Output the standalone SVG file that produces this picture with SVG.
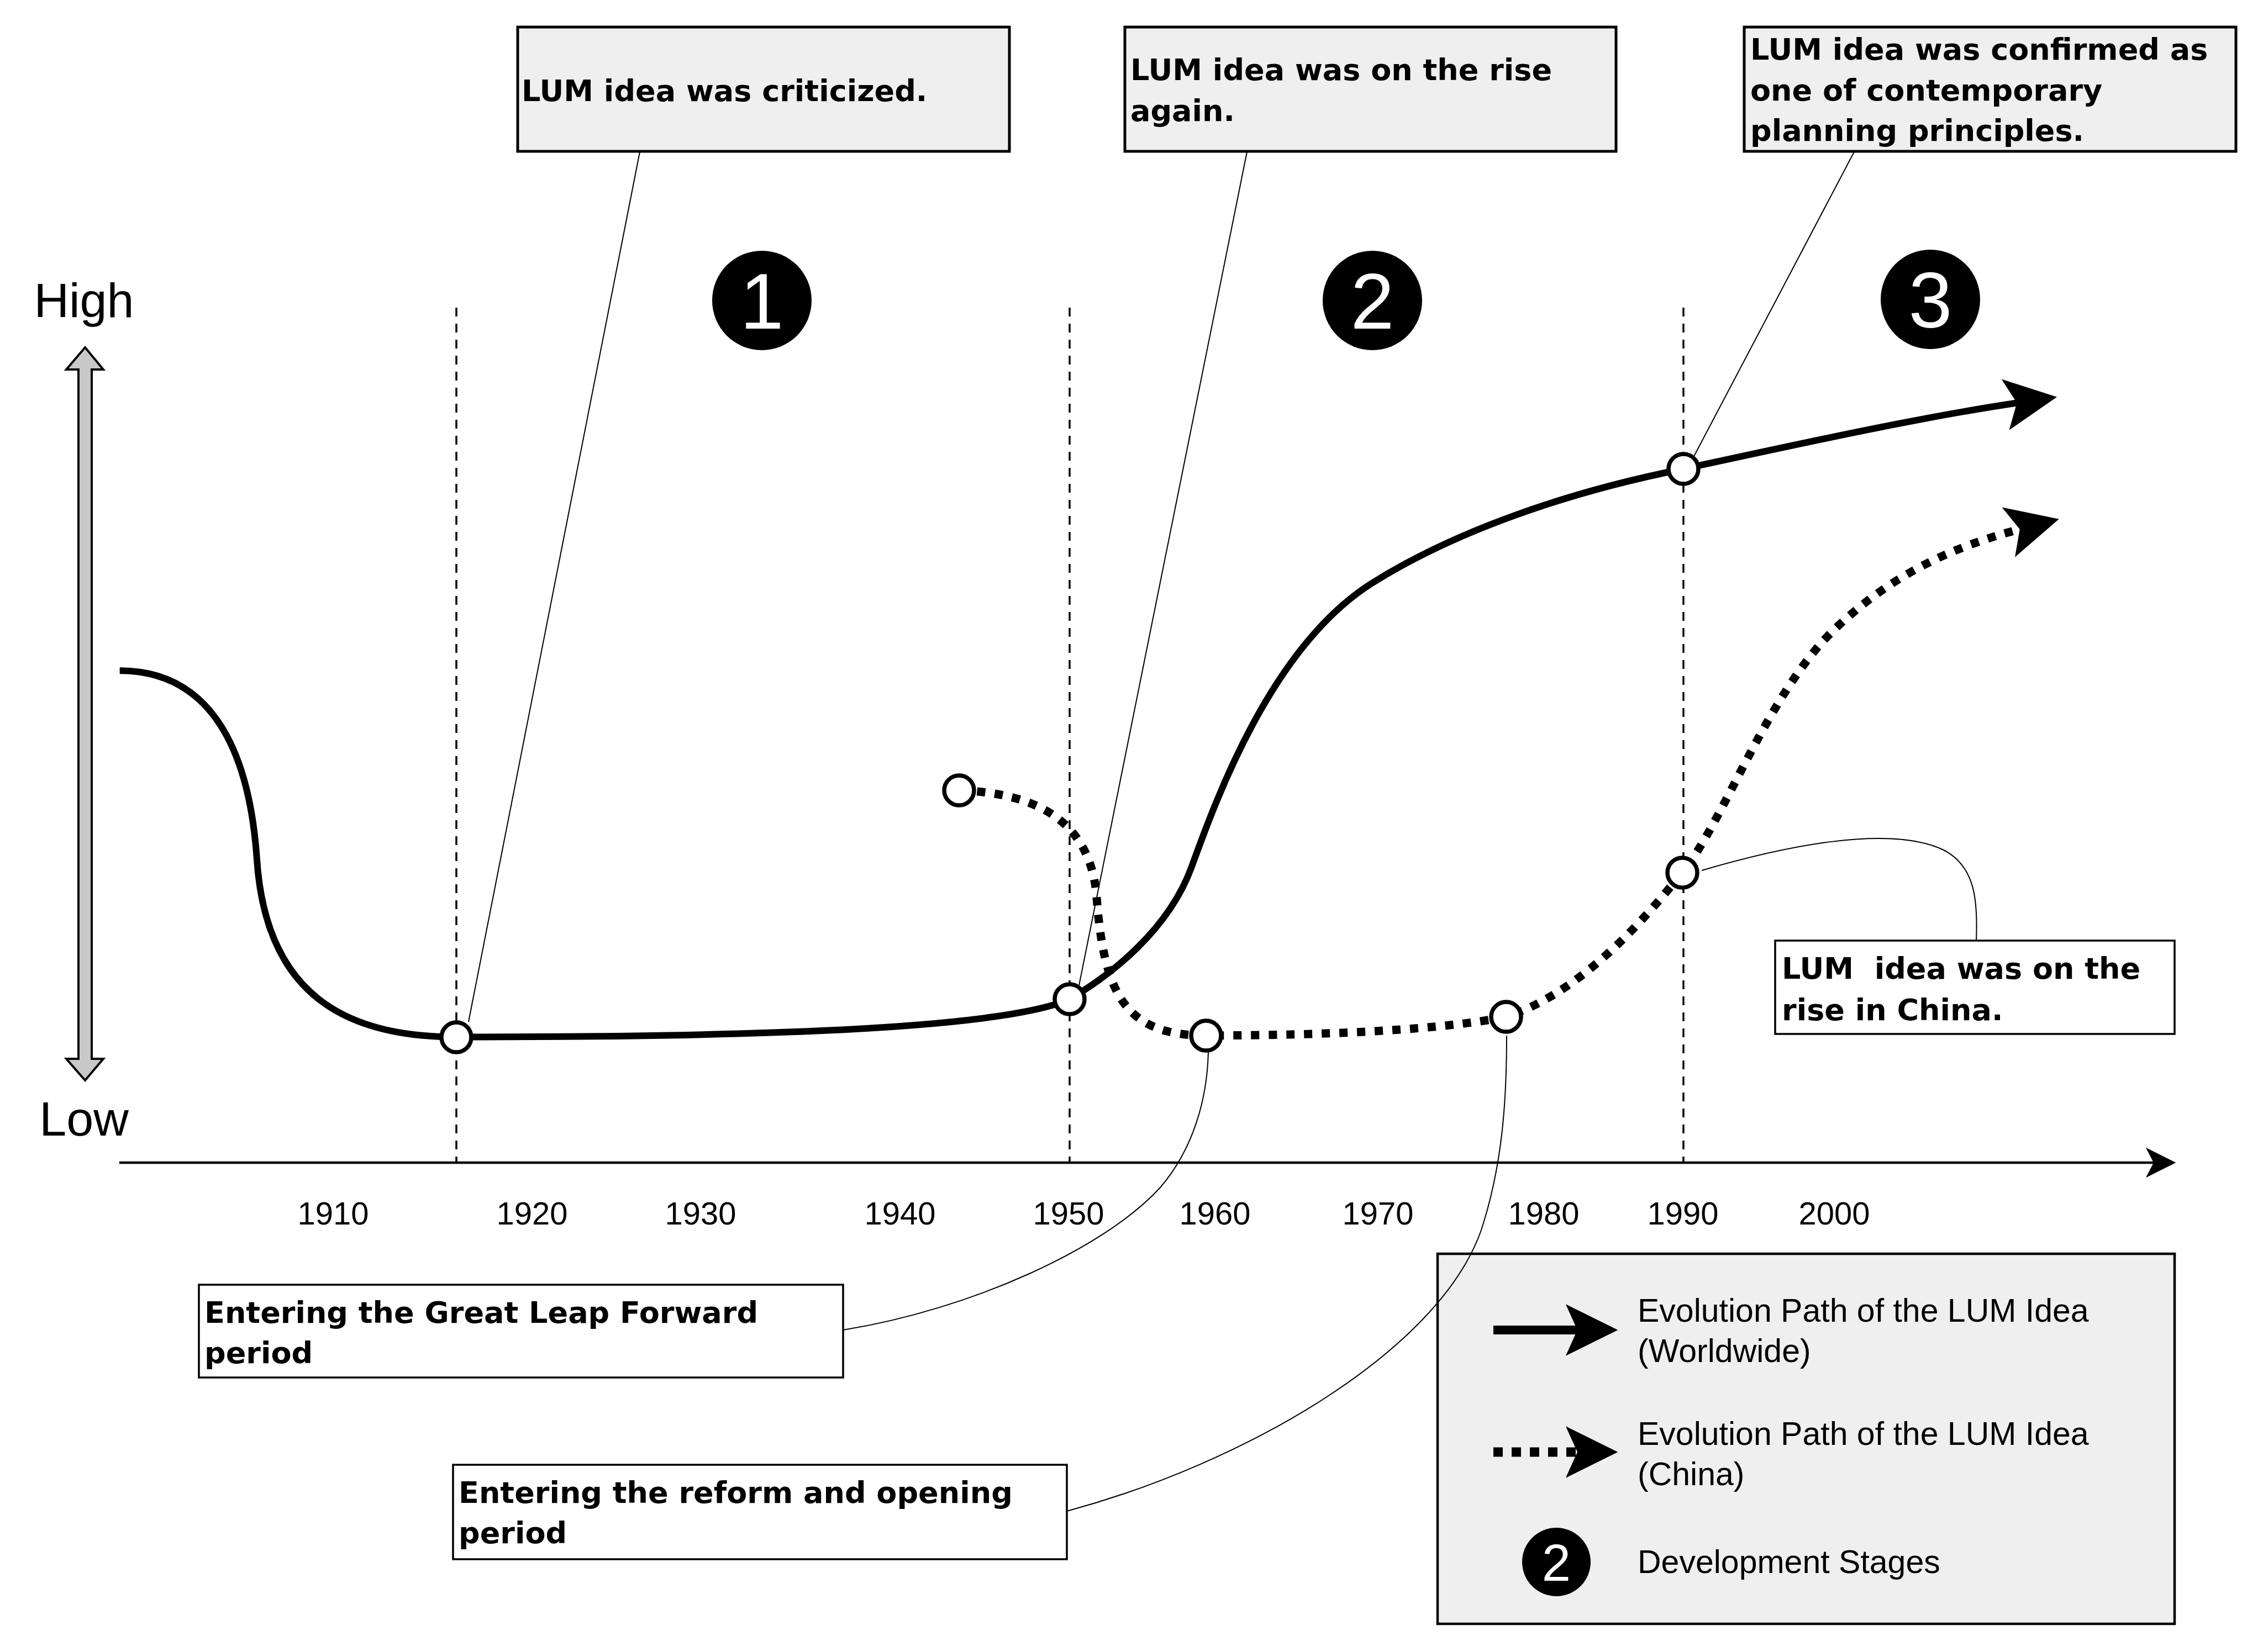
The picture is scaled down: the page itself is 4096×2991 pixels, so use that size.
<svg xmlns="http://www.w3.org/2000/svg" width="4096" height="2991" viewBox="0 0 4096 2991">
<style>
.box{fill:#efefef;stroke:#000;stroke-width:5}
.lbl{fill:#fff;stroke:#000;stroke-width:3.5}
.legend{fill:#efefef;stroke:#000;stroke-width:4.5}
.bt{font-family:"DejaVu Sans",Verdana,sans-serif;font-weight:bold;font-size:54px;fill:#000}
.rt{font-family:"Liberation Sans",Arial,sans-serif;fill:#000}
.yr{font-size:58px;text-anchor:middle}
.lt{font-size:59px}
.lead{fill:none;stroke:#000;stroke-width:2}
.vdash{stroke:#000;stroke-width:3.5;stroke-dasharray:16 13}
.world{fill:none;stroke:#000;stroke-width:12}
.china{fill:none;stroke:#000;stroke-width:15;stroke-dasharray:15 17}
.node{fill:#fff;stroke:#000;stroke-width:7.5}
.stage{fill:#000}
.digit{font-family:"Liberation Sans",Arial,sans-serif;fill:#fff;text-anchor:middle}
</style>
<defs>
<marker id="bigHead" markerUnits="userSpaceOnUse" orient="auto" refX="0" refY="0" markerWidth="100" markerHeight="100" viewBox="-20 -45 90 90" overflow="visible">
<path d="M66,0 L-19,-42 L0,0 L-19,42 Z" fill="#000"/>
</marker>
<marker id="axisHead" markerUnits="userSpaceOnUse" orient="auto" refX="0" refY="0" markerWidth="60" markerHeight="60" viewBox="-15 -27 55 54" overflow="visible">
<path d="M37,0 L-13,-25 L0,0 L-13,25 Z" fill="#000"/>
</marker>
</defs>
<rect width="4096" height="2991" fill="#fff"/>

<g id="legend">
<rect class="legend" x="2602" y="2270" width="1334" height="670"/>
<line x1="2703" y1="2408" x2="2855" y2="2408" stroke="#000" stroke-width="16" marker-end="url(#bigHead)"/>
<text class="rt lt" x="2964" y="2393">Evolution Path of the LUM Idea</text>
<text class="rt lt" x="2964" y="2466">(Worldwide)</text>
<line x1="2703" y1="2629" x2="2855" y2="2629" stroke="#000" stroke-width="17" stroke-dasharray="17 16" marker-end="url(#bigHead)"/>
<text class="rt lt" x="2964" y="2616">Evolution Path of the LUM Idea</text>
<text class="rt lt" x="2964" y="2689">(China)</text>
<circle class="stage" cx="2817" cy="2828" r="62"/>
<text class="digit" x="2817" y="2862" font-size="94">2</text>
<text class="rt lt" x="2964" y="2848">Development Stages</text>
</g>

<g id="grid">
<line class="vdash" x1="826" y1="557" x2="826" y2="2105"/>
<line class="vdash" x1="1936" y1="557" x2="1936" y2="2105"/>
<line class="vdash" x1="3047" y1="557" x2="3047" y2="2105"/>
</g>

<g id="axes">
<line x1="216" y1="2105" x2="3898" y2="2105" stroke="#000" stroke-width="4.5" marker-end="url(#axisHead)"/>
<path id="value-axis" d="M154,629 L187,669 L166,669 L166,1917 L187,1917 L154,1956 L120,1917 L142,1917 L142,669 L120,669 Z" fill="#c8c8c8" stroke="#000" stroke-width="4" stroke-linejoin="miter"/>
<text class="rt" x="152" y="574" font-size="88" text-anchor="middle">High</text>
<text class="rt" x="152" y="2056" font-size="88" text-anchor="middle">Low</text>
<g class="rt yr">
<text x="603" y="2217">1910</text>
<text x="963" y="2217">1920</text>
<text x="1268" y="2217">1930</text>
<text x="1629" y="2217">1940</text>
<text x="1934" y="2217">1950</text>
<text x="2199" y="2217">1960</text>
<text x="2494" y="2217">1970</text>
<text x="2794" y="2217">1980</text>
<text x="3046" y="2217">1990</text>
<text x="3320" y="2217">2000</text>
</g>
</g>

<g id="connectors">
<line class="lead" x1="1158" y1="275" x2="848" y2="1850"/>
<line class="lead" x1="2257" y1="275" x2="1953" y2="1784"/>
<line class="lead" x1="3357" y1="273" x2="3065" y2="828"/>
<path class="lead" d="M3080,1576 C3220,1535 3420,1490 3520,1540 C3575,1570 3580,1630 3577,1703"/>
<path class="lead" d="M1526,2408 C1760,2370 2000,2260 2100,2150 C2160,2080 2185,1990 2187,1905"/>
<path class="lead" d="M1931,2736 C2250,2650 2600,2450 2680,2230 C2720,2110 2727,1990 2727,1875"/>
<path id="path-worldwide" class="world" marker-end="url(#bigHead)" d="M216.7,1214.2 C365.6,1214.2 449.1,1331.7 464.8,1553.7 C480.5,1801.7 626.7,1877.5 825.1,1877.5 C1305.6,1877.5 1801.7,1867 1934.9,1809.6 C2010.6,1765.2 2115.1,1684.2 2156.9,1569.3 C2198.6,1454.4 2297.9,1175 2480.6,1057.5 C2637.3,958.3 2846.2,889 3047.3,849 C3264,802 3472.9,756 3650.5,729.5"/>
<path id="path-china" class="china" marker-end="url(#bigHead)" d="M1736.4,1430.9 C1880.1,1436.2 1971.5,1488.4 1984.5,1618.9 C1997.6,1801.7 2036.7,1874.8 2183,1874.8 C2402.3,1874.8 2611.2,1864.4 2726.1,1840.9 C2846.2,1801.7 2950.7,1697.3 3044.7,1579.8 C3120.4,1488.4 3198.7,1253.4 3324.1,1135.9 C3420.7,1044.5 3525.1,992.3 3655.7,958.3"/>
</g>

<g id="nodes-points">
<circle class="node" cx="826" cy="1878" r="27"/>
<circle class="node" cx="1936" cy="1809" r="27"/>
<circle class="node" cx="3047" cy="849" r="27"/>
<circle class="node" cx="1736" cy="1431" r="27"/>
<circle class="node" cx="2183" cy="1875" r="27"/>
<circle class="node" cx="2726" cy="1841" r="27"/>
<circle class="node" cx="3045" cy="1580" r="27"/>
</g>

<g id="stage-1"><circle class="stage" cx="1379" cy="544" r="90"/><text class="digit" x="1379" y="595" font-size="142">1</text></g>
<g id="stage-2"><circle class="stage" cx="2484" cy="544" r="90"/><text class="digit" x="2484" y="595" font-size="142">2</text></g>
<g id="stage-3"><circle class="stage" cx="3494" cy="542" r="90"/><text class="digit" x="3494" y="593" font-size="142">3</text></g>

<g id="note-criticized">
<rect class="box" x="937" y="49" width="890" height="225"/>
<text class="bt" x="944" y="183">LUM idea was criticized.</text>
</g>
<g id="note-rise-again">
<rect class="box" x="2036" y="49" width="889" height="225"/>
<text class="bt" x="2046" y="145">LUM idea was on the rise</text>
<text class="bt" x="2046" y="219">again.</text>
</g>
<g id="note-confirmed">
<rect class="box" x="3157" y="49" width="890" height="225"/>
<text class="bt" x="3168" y="108">LUM idea was confirmed as</text>
<text class="bt" x="3168" y="182">one of contemporary</text>
<text class="bt" x="3168" y="255">planning principles.</text>
</g>
<g id="note-china-rise">
<rect class="lbl" x="3213" y="1703" width="723" height="169"/>
<text class="bt" x="3225" y="1772" xml:space="preserve">LUM  idea was on the</text>
<text class="bt" x="3225" y="1847">rise in China.</text>
</g>
<g id="note-great-leap">
<rect class="lbl" x="360" y="2326" width="1166" height="168"/>
<text class="bt" x="370" y="2395">Entering the Great Leap Forward</text>
<text class="bt" x="370" y="2468">period</text>
</g>
<g id="note-reform">
<rect class="lbl" x="820" y="2652" width="1111" height="171"/>
<text class="bt" x="830" y="2721">Entering the reform and opening</text>
<text class="bt" x="830" y="2794">period</text>
</g>
</svg>
